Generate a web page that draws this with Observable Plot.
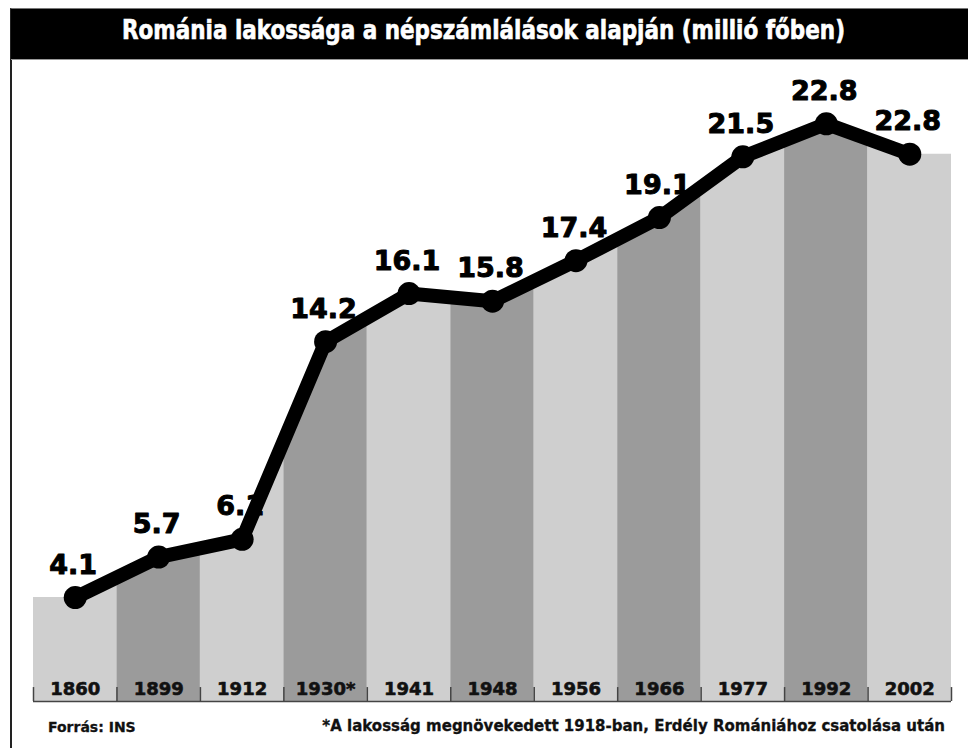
<!DOCTYPE html>
<html>
<head>
<meta charset="utf-8">
<script src="https://cdn.jsdelivr.net/npm/d3@7"></script>
<script src="https://cdn.jsdelivr.net/npm/@observablehq/plot@0.6"></script>
<style>
  html, body { margin: 0; padding: 0; background: #fff; }
  #wrap { position: relative; width: 968px; height: 748px; overflow: hidden; background: #fff; font-family: "DejaVu Sans", sans-serif; }
  #frame { position: absolute; left: 10px; top: 8px; width: 958px; height: 740px; border-left: 2px solid #222; border-top: 1px solid #777; box-sizing: border-box; }
  #band { position: absolute; left: 11px; top: 9px; right: 0; height: 51px; background: #000; border-bottom: 1px solid #999; box-sizing: border-box; }
  #title { position: absolute; left: 0; top: 0; white-space: nowrap; color: #fff; font-family: "DejaVu Sans Condensed", "DejaVu Sans", sans-serif; font-weight: bold; font-size: 26px; line-height: 26px; transform-origin: 0 0; -webkit-text-stroke: 0.6px #fff; }
  #chart { position: absolute; left: 0; top: 60px; }
  .foot { position: absolute; font-weight: bold; color: #111; white-space: nowrap; -webkit-text-stroke: 0.3px #111; }
</style>
</head>
<body>
<div id="wrap">
  <div id="frame"></div>
  <div id="band"></div>
  <div id="title">Románia lakossága a népszámlálások alapján (millió főben)</div>
  <div id="chart"></div>
  <div class="foot" id="src" style="left:48px; top:720px; font-size:14px; line-height:14px;">Forrás: INS</div>
  <div class="foot" id="note" style="right:23px; top:719px; font-size:15px; line-height:15px;">*A lakosság megnövekedett 1918-ban, Erdély Romániához csatolása után</div>
</div>
<script>
// Census years (tick labels)
const years = ["1860", "1899", "1912", "1930*", "1941", "1948", "1956", "1966", "1977", "1992", "2002"];
// Values printed on the chart (million people)
const printed = [4.1, 5.7, 6.1, 14.2, 16.1, 15.8, 17.4, 19.1, 21.5, 22.8, 22.8];
// Values as drawn by the dots in the picture (million people)
const plotted = [4.1, 5.7, 6.4, 14.2, 16.1, 15.8, 17.4, 19.1, 21.5, 22.8, 21.6];

const light = "#cfcfcf", dark = "#9b9b9b";
const TOP = 25.3;

const pts = years.map((y, i) => ({i, year: y, v: plotted[i], label: printed[i].toFixed(1)}));
const edge = [{i: -0.5, v: plotted[0]}, ...pts, {i: years.length - 0.5, v: plotted[plotted.length - 1]}];
const bounds = d3.range(years.length + 1).map(k => k - 0.5);

const numFont = "DejaVu Sans, sans-serif";

const chart = Plot.plot({
  width: 968,
  height: 652,
  marginLeft: 33,
  marginRight: 17,
  marginTop: 0,
  marginBottom: 11,
  x: {type: "linear", domain: [-0.5, years.length - 0.5], axis: null},
  y: {domain: [0, TOP], axis: null},
  color: {type: "identity"},
  marks: [
    Plot.rectY(pts, {x1: d => d.i - 0.5, x2: d => d.i + 0.5, y1: 0, y2: TOP, fill: d => d.i % 2 === 0 ? light : dark}),
    Plot.areaY(edge, {x: "i", y1: "v", y2: TOP, fill: "white"}),
    Plot.ruleY([0], {stroke: "#444", strokeWidth: 1.5}),
    Plot.ruleX(bounds, {x: d => d, y1: 0, y2: 0.55, stroke: "#444", strokeWidth: 1.5}),
    Plot.text(pts, {x: "i", y: 0, text: "year", dy: -7, lineAnchor: "bottom", fontSize: 18, fontWeight: "bold", fontFamily: numFont, fill: "#111", stroke: "#111", strokeWidth: 0.6}),
    Plot.line(pts, {x: "i", y: "v", stroke: "#000", strokeWidth: 14, strokeLinejoin: "round", strokeLinecap: "round"}),
    Plot.dot(pts, {x: "i", y: "v", r: 11.5, fill: "#000", stroke: null}),
    Plot.text(pts, {x: "i", y: "v", text: "label", dy: -24, dx: -2, lineAnchor: "bottom", fontSize: 27, fontWeight: "bold", fontFamily: numFont, fill: "#000", stroke: "#000", strokeWidth: 1})
  ]
});
document.getElementById("chart").appendChild(chart);

// fit the condensed title into the band like the original
const t = document.getElementById("title");
const w = t.getBoundingClientRect().width;
const target = 723;
t.style.transform = `scaleX(${target / w})`;
t.style.left = "122px";
t.style.top = "17px";
</script>
</body>
</html>
